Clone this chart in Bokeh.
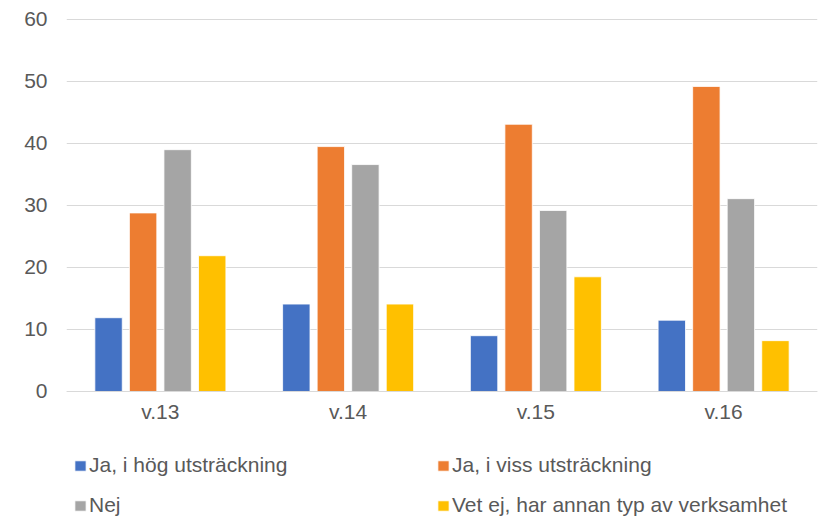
from bokeh.plotting import figure
from bokeh.models import FactorRange, Legend, LegendItem, FixedTicker, Range1d, ColumnDataSource
from bokeh.transform import dodge
from bokeh.embed import file_html
from bokeh.resources import INLINE

weeks = ["v.13", "v.14", "v.15", "v.16"]
series_names = ["Ja, i hög utsträckning", "Ja, i viss utsträckning", "Nej",
                "Vet ej, har annan typ av verksamhet"]
ja_hog = [11.9, 14.1, 9.0, 11.5]
ja_viss = [28.8, 39.5, 43.1, 49.2]
nej = [39.0, 36.6, 29.2, 31.1]
vet_ej = [21.9, 14.1, 18.5, 8.2]
y_ticks = [0, 10, 20, 30, 40, 50, 60]

colors = ["#4472C4", "#ED7D31", "#A5A5A5", "#FFC000"]
offsets = [-0.276, -0.092, 0.092, 0.276]
bar_w = 0.146

source = ColumnDataSource(dict(weeks=weeks, s0=ja_hog, s1=ja_viss, s2=nej, s3=vet_ej))

FONT = "Liberation Sans"
TXT = "#595959"
FS = "21px"

# frame spans full height; value axis 0..60 occupies pixel rows 19..391
p = figure(x_range=FactorRange(*weeks, range_padding=0), y_range=Range1d(-20.16, 63.06),
           width=819, height=516, output_backend="svg", toolbar_location=None,
           min_border_left=66, min_border_right=2, min_border_top=0, min_border_bottom=0)
p.outline_line_color = None
p.xgrid.grid_line_color = None
p.ygrid.grid_line_color = "#D9D9D9"
p.ygrid.grid_line_width = 1

renderers = []
for i, key in enumerate(["s0", "s1", "s2", "s3"]):
    r = p.vbar(x=dodge("weeks", offsets[i], range=p.x_range), top=key, bottom=0, width=bar_w,
               source=source, fill_color=colors[i], line_color="white", line_width=0.8)
    renderers.append(r)

p.yaxis.ticker = FixedTicker(ticks=y_ticks)
p.yaxis.axis_line_color = None
p.yaxis.major_tick_line_color = None
p.yaxis.major_tick_out = 0
p.yaxis.minor_tick_line_color = None
p.yaxis.major_label_standoff = 19
p.yaxis.major_label_text_font = FONT
p.yaxis.major_label_text_font_size = FS
p.yaxis.major_label_text_color = TXT

p.xaxis.fixed_location = 0
p.xaxis.axis_line_color = "#D9D9D9"
p.xaxis.major_tick_line_color = None
p.xaxis.major_tick_out = 0
p.xaxis.minor_tick_line_color = None
p.xaxis.major_label_standoff = 9
p.xaxis.major_label_text_font = FONT
p.xaxis.major_label_text_font_size = FS
p.xaxis.major_label_text_color = TXT

def make_legend(items, loc):
    return Legend(items=items, location=loc, orientation="vertical",
                  padding=0, margin=0, spacing=16, glyph_width=14, glyph_height=13,
                  label_standoff=2, border_line_color=None, background_fill_alpha=0,
                  label_text_font=FONT, label_text_font_size=FS,
                  label_text_color=TXT, label_height=24)

leg1 = make_legend([LegendItem(label=series_names[0], renderers=[renderers[0]]),
                    LegendItem(label=series_names[2], renderers=[renderers[2]])], (7, -1))
leg2 = make_legend([LegendItem(label=series_names[1], renderers=[renderers[1]]),
                    LegendItem(label=series_names[3], renderers=[renderers[3]])], (370, -1))
p.add_layout(leg1, "center")
p.add_layout(leg2, "center")

open("out.html", "w").write(file_html(p, INLINE))
